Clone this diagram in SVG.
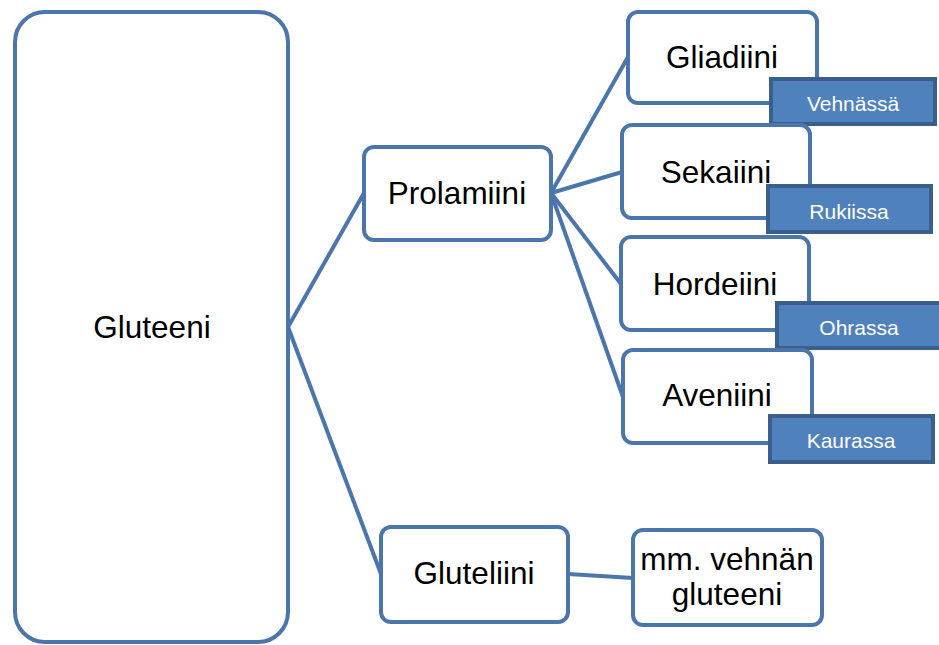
<svg xmlns="http://www.w3.org/2000/svg" width="939" height="645" viewBox="0 0 939 645">
<style>
.node{fill:#ffffff;stroke:#4a76ab;stroke-width:4}
.tag{fill:#4f81bd;stroke:#3a5f8d;stroke-width:4}
.conn{stroke:#4a76ab;stroke-width:4;fill:none}
.t{font-family:"Liberation Sans",Arial,sans-serif;font-size:31.5px;fill:#000;text-anchor:middle}
.s{font-family:"Liberation Sans",Arial,sans-serif;font-size:21px;fill:#fff;text-anchor:middle}
</style>
<rect width="939" height="645" fill="#ffffff"/>
<g id="connectors">
<line class="conn" x1="288" y1="327" x2="364" y2="193"/>
<line class="conn" x1="288" y1="327" x2="381" y2="574"/>
<line class="conn" x1="551" y1="193" x2="628" y2="57"/>
<line class="conn" x1="551" y1="193" x2="622" y2="172"/>
<line class="conn" x1="551" y1="193" x2="621" y2="284"/>
<line class="conn" x1="551" y1="193" x2="623" y2="397"/>
<line class="conn" x1="568" y1="574" x2="633" y2="578"/>
</g>
<g id="gluteeni">
<rect class="node" x="15" y="12" width="273" height="630" rx="30"/>
<text class="t" x="152" y="338">Gluteeni</text>
</g>
<g id="prolamiini">
<rect class="node" x="364" y="147" width="187" height="93" rx="10"/>
<text class="t" x="457" y="204">Prolamiini</text>
</g>
<g id="gluteliini">
<rect class="node" x="381" y="527" width="187" height="95" rx="10"/>
<text class="t" x="474" y="584">Gluteliini</text>
</g>
<g id="mm-vehnan">
<rect class="node" x="633" y="530" width="189" height="95" rx="10"/>
<text class="t" x="727" y="570">mm. vehnän</text>
<text class="t" x="727" y="605">gluteeni</text>
</g>
<g id="gliadiini">
<rect class="node" x="628" y="12" width="189" height="91" rx="10"/>
<text class="t" x="722" y="68">Gliadiini</text>
</g>
<g id="vehnassa">
<rect class="tag" x="771" y="79" width="164" height="45"/>
<text class="s" x="853" y="111">Vehnässä</text>
</g>
<g id="sekaiini">
<rect class="node" x="622" y="125" width="188" height="93" rx="10"/>
<text class="t" x="716" y="183">Sekaiini</text>
</g>
<g id="rukiissa">
<rect class="tag" x="768" y="186" width="163" height="46"/>
<text class="s" x="849" y="219">Rukiissa</text>
</g>
<g id="hordeiini">
<rect class="node" x="621" y="237" width="188" height="93" rx="10"/>
<text class="t" x="715" y="295">Hordeiini</text>
</g>
<g id="ohrassa">
<rect class="tag" x="777" y="303" width="164" height="45"/>
<text class="s" x="859" y="335">Ohrassa</text>
</g>
<g id="aveniini">
<rect class="node" x="623" y="350" width="189" height="93" rx="10"/>
<text class="t" x="717" y="406">Aveniini</text>
</g>
<g id="kaurassa">
<rect class="tag" x="770" y="416" width="163" height="46"/>
<text class="s" x="851" y="448">Kaurassa</text>
</g>
</svg>
